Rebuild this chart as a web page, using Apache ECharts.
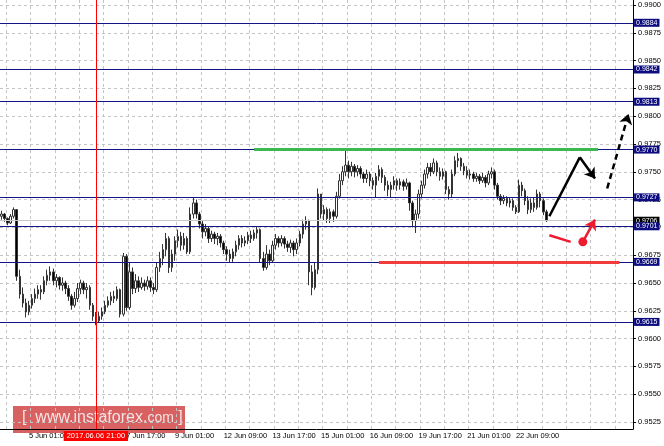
<!DOCTYPE html>
<html>
<head>
<meta charset="utf-8">
<script src="https://cdn.jsdelivr.net/npm/echarts@6/dist/echarts.min.js"></script>
<style>
html, body { margin: 0; padding: 0; background: #fff; }
#chart { width: 664px; height: 446px; }
</style>
</head>
<body>
<div id="chart"></div>
<script>
// bars from 2 Jun 07:00, prices in pips (9712 = 0.9712)
var firstOpen = 9710;
var closes = [
    9712, 9708, 9704, 9710, 9716, 9656, 9640, 9632, 9624, 9630,
    9636, 9640, 9644, 9642, 9652, 9657, 9660, 9652, 9655, 9648,
    9650, 9645, 9638, 9630, 9636, 9645, 9650, 9644, 9646, 9630,
    9620, 9616, 9620, 9624, 9630, 9634, 9638, 9636, 9644, 9622,
    9674, 9628, 9660, 9645, 9652, 9646, 9650, 9647, 9652, 9646,
    9644, 9664, 9672, 9680, 9690, 9664, 9676, 9688, 9692, 9684,
    9690, 9678, 9712, 9722, 9712, 9703, 9696, 9699, 9690, 9694,
    9690, 9692, 9686, 9680, 9676, 9672, 9678, 9684, 9690, 9686,
    9688, 9693, 9690, 9695, 9698, 9672, 9664, 9676, 9670, 9684,
    9690, 9686, 9690, 9685, 9682, 9686, 9680, 9686, 9694, 9703,
    9706, 9660, 9646, 9662, 9730, 9712, 9716, 9708, 9714, 9710,
    9728, 9742, 9750, 9756, 9750, 9755, 9750, 9753, 9748, 9744,
    9748, 9742, 9738, 9746, 9752, 9745, 9738, 9734, 9738, 9742,
    9738, 9741, 9737, 9740, 9722, 9706, 9712, 9730, 9738, 9748,
    9754, 9750, 9758, 9750, 9746, 9750, 9734, 9730, 9748, 9760,
    9762, 9755, 9751, 9747, 9748, 9744, 9746, 9742, 9745, 9740,
    9748, 9750, 9738, 9728, 9724, 9726, 9722, 9724, 9718, 9714,
    9738, 9733, 9724, 9716, 9722, 9718, 9730, 9724, 9714, 9706
];
var highs = [
    9715, 9713, 9709, 9712, 9718, 9716, 9662, 9646, 9636, 9634,
    9640, 9645, 9648, 9648, 9656, 9662, 9665, 9663, 9658, 9656,
    9655, 9652, 9648, 9640, 9642, 9650, 9653, 9652, 9650, 9648,
    9632, 9624, 9624, 9628, 9634, 9638, 9642, 9643, 9647, 9645,
    9677, 9676, 9668, 9664, 9658, 9656, 9655, 9653, 9656, 9655,
    9650, 9668, 9678, 9685, 9695, 9692, 9680, 9692, 9698, 9696,
    9695, 9692, 9718, 9727, 9725, 9714, 9706, 9703, 9701, 9697,
    9696, 9695, 9694, 9688, 9683, 9680, 9681, 9688, 9693, 9693,
    9692, 9696, 9697, 9698, 9701, 9699, 9678, 9684, 9680, 9688,
    9694, 9692, 9693, 9692, 9688, 9689, 9688, 9690, 9697, 9707,
    9710, 9707, 9666, 9668, 9735, 9730, 9720, 9718, 9717, 9716,
    9732, 9748, 9755, 9770, 9760, 9759, 9757, 9756, 9755, 9750,
    9752, 9750, 9745, 9749, 9756, 9754, 9747, 9742, 9741, 9746,
    9744, 9744, 9743, 9744, 9741, 9724, 9716, 9734, 9742, 9752,
    9758, 9758, 9762, 9760, 9754, 9753, 9751, 9737, 9752, 9764,
    9767, 9763, 9758, 9755, 9752, 9750, 9749, 9748, 9749, 9747,
    9751, 9754, 9752, 9740, 9730, 9729, 9728, 9727, 9726, 9720,
    9743, 9741, 9735, 9728, 9726, 9727, 9734, 9732, 9726, 9716
];
var lows = [
    9707, 9705, 9702, 9703, 9708, 9652, 9636, 9628, 9619, 9621,
    9627, 9632, 9636, 9635, 9640, 9648, 9652, 9648, 9646, 9644,
    9643, 9640, 9634, 9626, 9628, 9633, 9640, 9640, 9636, 9626,
    9616, 9612, 9614, 9617, 9622, 9628, 9630, 9632, 9634, 9619,
    9620, 9625, 9626, 9640, 9641, 9642, 9644, 9643, 9644, 9642,
    9640, 9642, 9660, 9666, 9674, 9659, 9660, 9670, 9682, 9679,
    9680, 9676, 9676, 9708, 9708, 9699, 9690, 9692, 9686, 9687,
    9685, 9684, 9682, 9676, 9670, 9669, 9669, 9674, 9680, 9682,
    9683, 9685, 9686, 9688, 9690, 9668, 9661, 9662, 9666, 9668,
    9680, 9682, 9683, 9681, 9678, 9677, 9674, 9676, 9683, 9690,
    9698, 9648, 9639, 9644, 9658, 9708, 9706, 9704, 9704, 9705,
    9708, 9726, 9738, 9746, 9744, 9746, 9745, 9746, 9744, 9740,
    9740, 9737, 9734, 9727, 9742, 9740, 9733, 9728, 9727, 9734,
    9733, 9734, 9733, 9734, 9715, 9700, 9695, 9708, 9726, 9735,
    9744, 9746, 9748, 9746, 9742, 9743, 9730, 9725, 9727, 9746,
    9754, 9751, 9747, 9744, 9743, 9741, 9741, 9739, 9740, 9736,
    9738, 9744, 9734, 9725, 9720, 9721, 9719, 9718, 9715, 9712,
    9713, 9728, 9720, 9712, 9713, 9714, 9716, 9718, 9711, 9705
];

var tradingDays = ['2 Jun', '5 Jun', '6 Jun', '7 Jun', '8 Jun', '9 Jun', '12 Jun', '13 Jun', '14 Jun',
    '15 Jun', '16 Jun', '19 Jun', '20 Jun', '21 Jun', '22 Jun', '23 Jun', '26 Jun', '27 Jun'];
var xLabelIndex = [9, 41, 57, 73, 89, 105, 121, 137, 153, 169];
var crosshairIndex = 31;
var crosshairLabel = '2017.06.06 21:00';
var yTicks = [0.9525, 0.9550, 0.9575, 0.9600, 0.9625, 0.9650, 0.9675, 0.9700,
    0.9725, 0.9750, 0.9775, 0.9800, 0.9825, 0.9850, 0.9875, 0.9900];

// levels drawn on the chart
var blueLevels = [0.9884, 0.9842, 0.9813, 0.9770, 0.9727, 0.9701, 0.9669, 0.9615];
var currentPrice = 0.9706;
var greenLevel = [[83, 0.9770], [196, 0.9770]];
var redLevel = [[124, 0.9669], [203, 0.9669]];
var upPath = [[180, 0.9710], [190, 0.9763], [195, 0.9744]];
var upDashed = [[199, 0.9735], [206, 0.9802]];
var downPath = [[180, 0.9693], [187, 0.9687]];
var downArrow = [[191, 0.9687], [195, 0.9707]];

var categories = [];
tradingDays.forEach(function (day, d) {
    for (var h = (d == 0 ? 7 : 1); h < 24; h += 2) {
        categories.push(day + ' ' + (h < 10 ? '0' : '') + h + ':00');
    }
});
categories = categories.slice(0, 208);

var candles = [];
for (var i = 0; i < closes.length; i++) {
    var open = i == 0 ? firstOpen : closes[i - 1];
    candles.push([open / 10000, closes[i] / 10000, lows[i] / 10000, highs[i] / 10000]);
}

var font = 'Liberation Sans';
var lines = [];
lines.push({
    yAxis: currentPrice,
    lineStyle: { color: '#c8c8c8', width: 1, type: 'solid' },
    label: {
        show: true, position: 'end', distance: 1, formatter: currentPrice.toFixed(4),
        backgroundColor: '#000', color: '#fff', fontSize: 7, fontFamily: font, padding: [1, 2, 0, 2]
    }
});
blueLevels.forEach(function (v) {
    lines.push({
        yAxis: v,
        lineStyle: { color: '#14148a', width: 1, type: 'solid' },
        label: {
            show: true, position: 'end', distance: 1, formatter: v.toFixed(4),
            backgroundColor: '#0c0c80', color: '#fff', fontSize: 7, fontFamily: font, padding: [1, 2, 0, 2]
        }
    });
});
lines.push({ xAxis: crosshairIndex, lineStyle: { color: '#ff0000', width: 1, type: 'solid' }, label: { show: false } });

function seg(a, b, color, width, type, arrow) {
    return [
        { coord: a, symbol: 'none', lineStyle: { color: color, width: width, type: type }, label: { show: false } },
        { coord: b, symbol: arrow ? 'arrow' : 'none', symbolSize: arrow ? 10 : 0 }
    ];
}
lines.push(seg(greenLevel[0], greenLevel[1], '#3cb851', 3, 'solid', false));
lines.push(seg(redLevel[0], redLevel[1], '#f03c3c', 3, 'solid', false));
lines.push(seg(upPath[0], upPath[1], '#000', 2.5, 'solid', false));
lines.push(seg(upPath[1], upPath[2], '#000', 2.5, 'solid', true));
lines.push(seg(upDashed[0], upDashed[1], '#000', 2.5, [6, 4], true));
lines.push(seg(downPath[0], downPath[1], '#ee1c2e', 2.5, 'solid', false));
lines.push(seg(downArrow[0], downArrow[1], '#ee1c2e', 2.5, 'solid', true));

var chart = echarts.init(document.getElementById('chart'));
var option = {
    animation: false,
    backgroundColor: '#fff',
    grid: { left: 0, right: 30, top: 0, bottom: 17 },
    xAxis: [{
        type: 'category',
        data: categories,
        boundaryGap: true,
        axisLine: { lineStyle: { color: '#000' } },
        axisTick: { show: false },
        axisLabel: {
            interval: function (index) { return xLabelIndex.indexOf(index) >= 0; },
            align: 'left', margin: 3, fontSize: 7.5, fontFamily: font, color: '#000'
        },
        splitLine: {
            show: true,
            interval: function (index) { return index >= 2 && (index - 10) % 8 == 0; },
            lineStyle: { color: '#c4c4c4', type: [3, 3] }
        }
    }, {
        type: 'category',
        data: categories,
        position: 'bottom',
        boundaryGap: true,
        axisLine: { show: false },
        axisTick: { show: false },
        splitLine: { show: false },
        axisLabel: {
            interval: function (index) { return index == crosshairIndex; },
            formatter: function () { return crosshairLabel; },
            align: 'center', margin: 2, fontSize: 7.5, fontFamily: font, color: '#fff',
            backgroundColor: '#ff0000', padding: [1, 3]
        }
    }],
    yAxis: {
        type: 'value',
        position: 'right',
        min: 0.951871,
        max: 0.990450,
        axisLine: { show: true, lineStyle: { color: '#000' } },
        axisTick: { show: true, length: 3, customValues: yTicks, lineStyle: { color: '#000' } },
        axisLabel: {
            customValues: yTicks, margin: 5, fontSize: 7.5, fontFamily: font, color: '#000',
            formatter: function (v) { return v.toFixed(4); }
        },
        splitLine: { show: true, lineStyle: { color: '#c4c4c4', type: [3, 3] } }
    },
    series: [{
        type: 'candlestick',
        data: candles,
        barWidth: 2,
        itemStyle: {
            color: '#ffffff', color0: '#000000',
            borderColor: '#333333', borderColor0: '#333333', borderWidth: 1
        },
        markLine: {
            silent: true,
            precision: 4,
            symbol: ['none', 'none'],
            animation: false,
            data: lines
        },
        markPoint: {
            silent: true,
            animation: false,
            data: [{ coord: downArrow[0], symbol: 'circle', symbolSize: 9, itemStyle: { color: '#ee1c2e' }, label: { show: false } }]
        }
    }],
    graphic: [{
        type: 'group', left: 13, top: 406, z: 100,
        children: [
            { type: 'rect', shape: { x: 0, y: 0, width: 172, height: 27 }, style: { fill: 'rgba(206,58,58,0.8)' } },
            {
                type: 'text', x: 9, y: 4,
                style: {
                    text: '{a|[  www.instaforex.}{b|com}{a| ]}',
                    rich: {
                        a: { fontSize: 16, fontFamily: font, fill: '#f7e4e4' },
                        b: { fontSize: 14, fontFamily: font, fill: '#f7e4e4' }
                    }
                }
            }
        ]
    }]
};
chart.setOption(option);
</script>
</body>
</html>
